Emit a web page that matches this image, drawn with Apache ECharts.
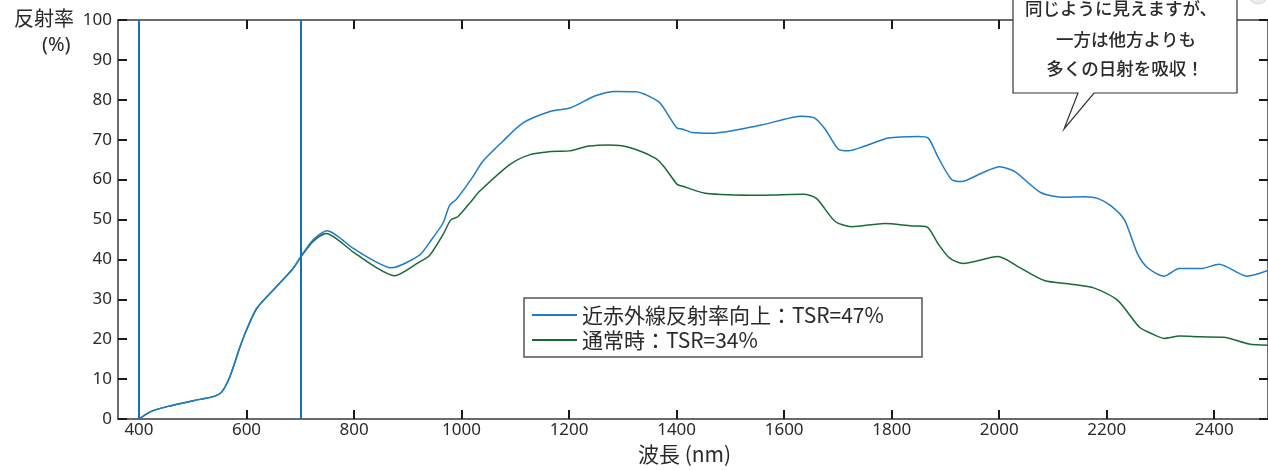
<!DOCTYPE html>
<html>
<head>
<meta charset="utf-8">
<script src="https://cdn.jsdelivr.net/npm/echarts@6/dist/echarts.min.js"></script>
<style>
html,body{margin:0;padding:0;background:#fff;}
#chart{width:1268px;height:470px;}
</style>
</head>
<body>
<div id="chart"></div>
<script>
// ---- data ----
const seriesNames = ['近赤外線反射率向上：TSR=47%', '通常時：TSR=34%'];
const xTickLabels = [400, 600, 800, 1000, 1200, 1400, 1600, 1800, 2000, 2200, 2400];
const markWavelengths = [400, 700];

const blueNm = [400,421,452,501,538,554,569,588,600,619,656,687,701,724,750,798,835,869,922,940,965,978,990,1020,1039,1076,1113,1163,1203,1249,1287,1324,1367,1386,1401,1410,1429,1466,1558,1633,1657,1677,1701,1719,1750,1794,1849,1868,1886,1911,1930,1967,2001,2029,2078,2121,2158,2183,2208,2233,2257,2276,2307,2335,2375,2409,2461,2500];
const blueVal = [0,1.8,3.1,4.6,5.6,6.8,10.6,18.1,22.3,27.7,33.2,37.8,40.7,44.9,47.2,42.8,39.8,37.9,41.1,44.2,49.0,53.6,55.0,60.5,64.5,69.5,74.1,77.0,78.0,81.0,82.1,82.0,79.5,75.8,72.9,72.7,71.8,71.6,73.7,75.9,75.4,72.5,67.6,67.2,68.4,70.4,70.8,70.4,65.7,60.1,59.5,61.6,63.2,62.0,56.7,55.6,55.7,55.3,53.4,49.9,41.5,37.9,35.8,37.7,37.7,38.8,35.8,37.2];

const greenNm = [400,421,452,501,538,554,569,588,600,619,656,687,701,724,748,798,835,875,922,940,965,980,993,1020,1033,1089,1126,1163,1200,1237,1274,1311,1361,1379,1401,1410,1453,1558,1636,1660,1695,1726,1787,1837,1865,1886,1908,1933,1998,2035,2084,2134,2177,2220,2261,2282,2307,2335,2375,2417,2465,2500];
const greenVal = [0,1.8,3.1,4.6,5.6,6.8,10.6,18.1,22.3,27.7,33.2,37.8,40.6,44.5,46.5,41.9,38.5,35.9,39.4,40.9,46.1,49.9,50.7,54.9,57.0,63.7,66.2,67.0,67.2,68.4,68.7,68.1,65.3,62.8,58.8,58.4,56.6,56.1,56.3,55.3,49.5,48.2,49.0,48.4,48.2,44.0,40.3,39.0,40.7,38.2,34.7,33.8,32.8,29.8,23.0,21.5,20.2,20.8,20.6,20.5,18.8,18.5];

const calloutLines = ['同じように見えますが、', '一方は他方よりも', '多くの日射を吸収！'];
const yAxisTitle = ['反射率', '(%)'];
const xAxisTitle = '波長 (nm)';

// ---- chart ----
const BLUE = '#1f7bc6';
const GREEN = '#1a6a38';
const VLINE = '#1a6fb3';
const AXIS = '#3a3a3a';
const TEXT = '#2a2a2a';
const NUMFONT = '"Noto Sans", sans-serif';
const JPFONT = '"Noto Sans CJK JP", sans-serif';

const pairs = (xs, ys) => xs.map((x, i) => [x, ys[i]]);

const chart = echarts.init(document.getElementById('chart'), null, {renderer: 'canvas'});

const tickCommon = {show: true, inside: true, length: 9, lineStyle: {color: '#1a1a1a', width: 2}};

chart.setOption({
  animation: false,
  backgroundColor: '#fff',
  grid: {left: 118, top: 20, width: 1153, height: 399, containLabel: false},
  xAxis: [{
    type: 'value', min: 361, max: 2500, position: 'bottom',
    axisLine: {show: true, onZero: false, lineStyle: {color: AXIS, width: 1.5}},
    axisTick: Object.assign({customValues: xTickLabels}, tickCommon),
    axisLabel: {customValues: xTickLabels, formatter: v => String(v), color: TEXT, fontSize: 17, fontFamily: NUMFONT, margin: 3},
    splitLine: {show: false}
  }, {
    type: 'value', min: 361, max: 2500, position: 'top',
    axisLine: {show: true, onZero: false, lineStyle: {color: AXIS, width: 1.5}},
    axisTick: Object.assign({customValues: xTickLabels}, tickCommon),
    axisLabel: {show: false},
    splitLine: {show: false}
  }],
  yAxis: [{
    type: 'value', min: 0, max: 100, interval: 10, position: 'left',
    axisLine: {show: true, onZero: false, lineStyle: {color: AXIS, width: 1.5}},
    axisTick: tickCommon,
    axisLabel: {color: TEXT, fontSize: 17, fontFamily: NUMFONT, margin: 6},
    splitLine: {show: false}
  }, {
    type: 'value', min: 0, max: 100, interval: 10, position: 'right',
    axisLine: {show: true, onZero: false, lineStyle: {color: AXIS, width: 1.5}},
    axisTick: tickCommon,
    axisLabel: {show: false},
    splitLine: {show: false}
  }],
  legend: {
    left: 524, top: 298, orient: 'vertical',
    data: seriesNames,
    icon: 'rect',
    backgroundColor: '#fff',
    borderColor: '#555', borderWidth: 1.5, borderRadius: 0,
    padding: [6, 10, 6, 8],
    itemWidth: 45, itemHeight: 2, itemGap: 3, itemTextGap: 5,
    textStyle: {color: TEXT, fontSize: 21, fontFamily: JPFONT, width: 330, lineHeight: 22},
    z: 20
  },
  series: [{
    name: seriesNames[1], type: 'line', data: pairs(greenNm, greenVal),
    symbol: 'none', smooth: 0.25, z: 3,
    lineStyle: {color: GREEN, width: 1.5}, itemStyle: {color: GREEN}
  }, {
    name: seriesNames[0], type: 'line', data: pairs(blueNm, blueVal),
    symbol: 'none', smooth: 0.25, z: 4,
    lineStyle: {color: BLUE, width: 1.5}, itemStyle: {color: BLUE},
    markLine: {
      silent: true, symbol: 'none', label: {show: false},
      lineStyle: {color: VLINE, width: 2, type: 'solid'},
      data: markWavelengths.map(v => ({xAxis: v}))
    }
  }],
  graphic: [
    {type: 'text', left: 14, top: 8, z: 50, style: {text: yAxisTitle[0], fill: TEXT, font: '20px ' + JPFONT}},
    {type: 'text', left: 42, top: 35, z: 50, style: {text: yAxisTitle[1], fill: TEXT, font: '20px ' + NUMFONT}},
    {type: 'text', left: 638, top: 444, z: 50, style: {text: xAxisTitle, fill: TEXT, font: '21px ' + JPFONT}},
    {type: 'circle', z: 40, shape: {cx: 1258, cy: -6, r: 10}, style: {fill: '#ececec', stroke: '#dadada', lineWidth: 1}},
    {type: 'polygon', z: 60,
      shape: {points: [[1013,-3],[1237,-3],[1237,93],[1094,93],[1064,129],[1078,93],[1013,93]]},
      style: {fill: '#fff', stroke: '#333', lineWidth: 1.2}},
    {type: 'text', z: 61, x: 1121, y: 0, style: {text: calloutLines[0], fill: TEXT, font: '500 17.5px ' + JPFONT, textAlign: 'center'}},
    {type: 'text', z: 61, x: 1126, y: 31, style: {text: calloutLines[1], fill: TEXT, font: '500 17.5px ' + JPFONT, textAlign: 'center'}},
    {type: 'text', z: 61, x: 1125, y: 60, style: {text: calloutLines[2], fill: TEXT, font: '500 17.5px ' + JPFONT, textAlign: 'center'}}
  ]
});
</script>
</body>
</html>
